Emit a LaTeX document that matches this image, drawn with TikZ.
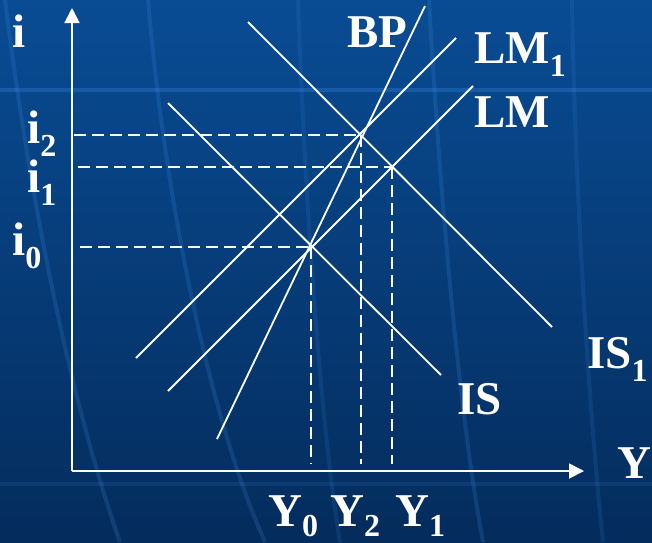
\documentclass[tikz,border=0pt]{standalone}
\usepackage{fontspec}
\setmainfont{Liberation Serif}
\usetikzlibrary{arrows.meta}
\newcommand{\lbsub}[1]{\raisebox{-0.28em}{\fontsize{32}{32}\selectfont #1}}
\newcommand{\lbsubY}[1]{\raisebox{-0.22em}{\fontsize{32}{32}\selectfont #1}}
\definecolor{bgtop}{RGB}{9,76,148}
\definecolor{bgbot}{RGB}{4,44,92}
\definecolor{streak}{RGB}{60,140,230}
\tikzset{
  curve/.style={white, line width=1.8pt},
  axis/.style={white, line width=1.8pt, -{Triangle[width=15pt,length=15pt]}},
  guide/.style={white, line width=1.6pt, dash pattern=on 12pt off 6pt},
  lbl/.style={text=white, font=\fontsize{47}{47}\selectfont\bfseries, inner sep=0pt, anchor=base west},
  bgstreak/.style={streak, line width=4pt, opacity=0.2}
}
\begin{document}
\begin{tikzpicture}[x=1pt,y=-1pt]
  \useasboundingbox (0,0) rectangle (652,542);
  \shade[top color=bgtop, bottom color=bgbot] (0,0) rectangle (652,542);
  % background streaks
  \draw[bgstreak, opacity=0.3] (0,90) -- (652,90);
  \draw[bgstreak, opacity=0.14] (0,484) -- (652,484);
  \draw[bgstreak] (5,0) .. controls (30,200) and (70,400) .. (120,542);
  \draw[bgstreak] (148,0) .. controls (165,200) and (210,420) .. (265,542);
  \draw[bgstreak, opacity=0.14] (298,0) .. controls (305,200) and (320,420) .. (340,542);
  \draw[bgstreak] (429,0) .. controls (440,200) and (460,420) .. (483,542);
  \draw[bgstreak, opacity=0.15] (572,0) .. controls (575,200) and (590,420) .. (603,542);

  % axes
  \coordinate (O) at (72,471);
  \coordinate (ytop) at (72,8);
  \coordinate (xend) at (584,471);
  \draw[axis] (O) -- (ytop);
  \draw[axis] (O) -- (xend);

  % curves
  \coordinate (IS1a) at (248,22);   \coordinate (IS1b) at (552,327);
  \coordinate (ISa) at (168,103);   \coordinate (ISb) at (441,375);
  \coordinate (LM1a) at (136,358);  \coordinate (LM1b) at (456,38);
  \coordinate (LMa) at (168,391);   \coordinate (LMb) at (473,86);
  \coordinate (BPa) at (217,439);   \coordinate (BPb) at (425,6);
  \draw[curve] (IS1a) -- (IS1b);
  \draw[curve] (ISa) -- (ISb);
  \draw[curve] (LM1a) -- (LM1b);
  \draw[curve] (LMa) -- (LMb);
  \draw[curve] (BPa) -- (BPb);

  % equilibria
  \coordinate (E0) at (311,247);
  \coordinate (E2) at (361,135);
  \coordinate (E1) at (392,167);
  \coordinate (i0a) at (80,247);
  \coordinate (i2a) at (74,135);
  \coordinate (i1a) at (78,167);
  \coordinate (Y0a) at (311,464);
  \coordinate (Y2a) at (361,464);
  \coordinate (Y1a) at (392,464);
  \draw[guide] (i2a) -- (E2);
  \draw[guide] (i1a) -- (E1);
  \draw[guide] (i0a) -- (E0);
  \draw[guide] (E0) -- (Y0a);
  \draw[guide] (E2) -- (Y2a);
  \draw[guide] (E1) -- (Y1a);

  % labels
  \node[lbl] (li) at (12,47) {i};
  \node[lbl] (li2) at (27,143) {i\lbsub{2}};
  \node[lbl] (li1) at (27,192) {i\lbsub{1}};
  \node[lbl] (li0) at (12,255) {i\lbsub{0}};
  \node[lbl] (lBP) at (347,47) {BP};
  \node[lbl] (lLM1) at (474,63) {LM\lbsub{1}};
  \node[lbl] (lLM) at (474,127) {LM};
  \node[lbl] (lIS1) at (587,368) {IS\lbsub{1}};
  \node[lbl] (lIS) at (457,414) {IS};
  \node[lbl] (lY) at (617,478) {Y};
  \node[lbl] (lY0) at (268,526) {Y\lbsubY{0}};
  \node[lbl] (lY2) at (330,526) {Y\lbsubY{2}};
  \node[lbl] (lY1) at (395,526) {Y\lbsubY{1}};
\end{tikzpicture}
\end{document}
